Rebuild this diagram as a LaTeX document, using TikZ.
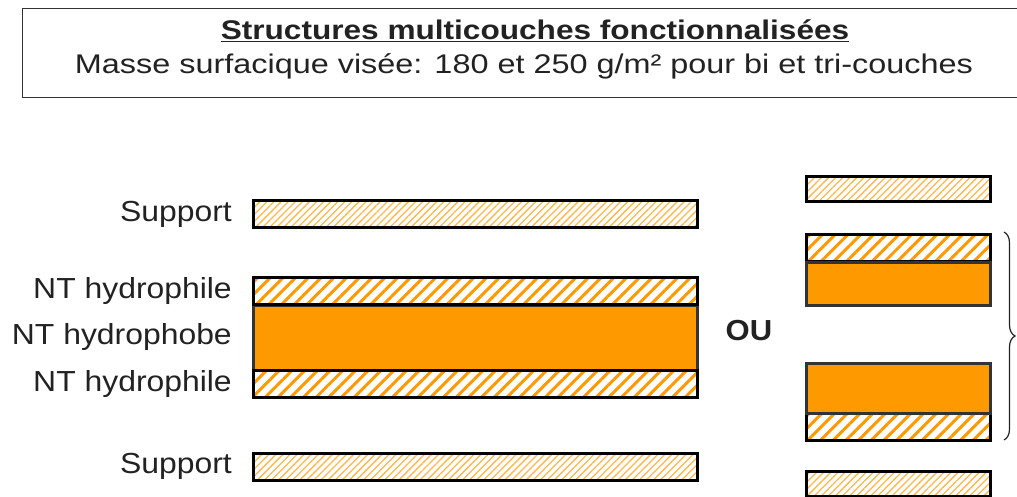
\documentclass[tikz,border=0pt]{standalone}
\usepackage{fontspec}
\usepackage{graphicx}
\setmainfont{Liberation Sans}
\usetikzlibrary{patterns.meta,decorations.pathreplacing}
\definecolor{orangeM}{HTML}{FF9900}
\definecolor{orangeL}{HTML}{FFB84D}
\definecolor{boxgray}{HTML}{333333}
\definecolor{txt}{HTML}{222222}
\newcommand{\wideA}[2]{\scalebox{#1}[1]{#2}}
\begin{document}
\begin{tikzpicture}[x=1pt,y=-1pt,
  layer/.style={draw=black, line width=3pt, inner sep=0pt, outer sep=0pt},
  fine/.style={layer, minimum height=27pt, pattern={Lines[angle=45,distance=5pt,line width=1.3pt]}, pattern color=orangeL},
  hydrophile/.style={layer, minimum height=27pt, pattern={Lines[angle=45,distance=9pt,line width=3pt]}, pattern color=orangeM},
  hydrophobe/.style={layer, draw=boxgray, fill=orangeM},
  wide/.style={minimum width=444pt},
  narrow/.style={minimum width=184pt},
  lbl/.style={font=\fontsize{29}{33}\selectfont, text=txt, anchor=east, inner sep=0pt},
]
\useasboundingbox (0,0) rectangle (1017,497);
\fill[white] (0,0) rectangle (1017,497);
% title box
\node[draw=boxgray, line width=1.2pt, minimum width=1010pt, minimum height=89pt, anchor=north west, inner sep=0pt] (titlebox) at (22,8) {};
\node[font=\bfseries\fontsize{27}{31}\selectfont, text=txt, inner sep=0pt] (title) at (535,31) {\wideA{1.17}{\underline{Structures multicouches fonctionnalisées}}};
\node[font=\fontsize{27}{31}\selectfont, text=txt, inner sep=0pt] (subtitle) at (524,66) {\wideA{1.2}{Masse surfacique visée: 180 et 250 g/m² pour bi et tri-couches}};
% left column
\node[fine, wide] (sup1) at (475.5,214) {};
\node[hydrophobe, wide, minimum height=65pt] (pho) at (475.5,337.5) {};
\node[hydrophile, wide] (phi1) at (475.5,291) {};
\node[hydrophile, wide] (phi2) at (475.5,384) {};
\node[fine, wide] (sup2) at (475.5,466.5) {};
% labels
\node[lbl] (lsup1) at (232,214) {\wideA{1.1}{Support}};
\node[lbl] (lphi1) at (232,291) {\wideA{1.1}{NT hydrophile}};
\node[lbl] (lpho) at (232,337.5) {\wideA{1.1}{NT hydrophobe}};
\node[lbl] (lphi2) at (232,384) {\wideA{1.1}{NT hydrophile}};
\node[lbl] (lsup2) at (232,466.5) {\wideA{1.1}{Support}};
\node[font=\bfseries\fontsize{29}{33}\selectfont, text=txt, inner sep=0pt] (ou) at (749,331) {\wideA{1.07}{OU}};
% right column
\node[fine, narrow, minimum height=25pt] (rs1) at (898,189) {};
\node[hydrophile, narrow] (rh1) at (898,247.5) {};
\node[hydrophobe, narrow, minimum height=43pt] (ro1) at (898,283.5) {};
\node[hydrophile, narrow] (rh2) at (898,427) {};
\node[hydrophobe, narrow, minimum height=50pt] (ro2) at (898,388) {};
\node[fine, narrow, minimum height=25pt] (rs2) at (898,484) {};
% brace
\coordinate (btop) at (1004,232);
\coordinate (bbot) at (1004,440);
\draw[line width=1.2pt, draw=txt, decorate, decoration={brace, amplitude=11pt}] (btop) -- (bbot);
\end{tikzpicture}
\end{document}
